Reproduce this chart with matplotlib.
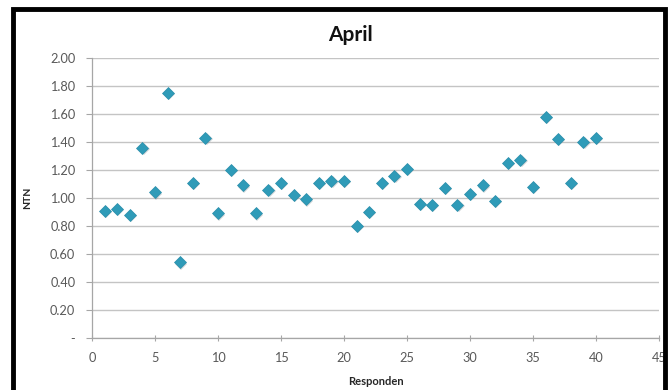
import matplotlib
matplotlib.use("Agg")
import matplotlib.pyplot as plt
from matplotlib.patches import Rectangle
from matplotlib.ticker import FixedLocator, FuncFormatter
import matplotlib.transforms as mtransforms

responden = list(range(1, 41))
ntn = [0.91, 0.92, 0.88, 1.36, 1.04, 1.75, 0.54, 1.11, 1.43, 0.89,
       1.20, 1.09, 0.89, 1.06, 1.11, 1.02, 0.99, 1.11, 1.12, 1.12,
       0.80, 0.90, 1.11, 1.16, 1.21, 0.96, 0.95, 1.07, 0.95, 1.03,
       1.09, 0.98, 1.25, 1.27, 1.08, 1.58, 1.42, 1.11, 1.40, 1.43]

x_ticks = [0, 5, 10, 15, 20, 25, 30, 35, 40, 45]
y_ticks = [0.0, 0.2, 0.4, 0.6, 0.8, 1.0, 1.2, 1.4, 1.6, 1.8, 2.0]

plt.rcParams['font.family'] = ['Lato', 'DejaVu Sans']

W, H = 672, 390
fig = plt.figure(figsize=(W / 100, H / 100), dpi=100)
fig.patch.set_facecolor('white')

ax = fig.add_axes([92 / W, 1 - 338 / H, (659 - 92) / W, (338 - 58) / H])
ax.set_xlim(0, 45)
ax.set_ylim(0, 2.0)

grid_c = '#c4c4c4'
ax.yaxis.set_major_locator(FixedLocator(y_ticks))
ax.xaxis.set_major_locator(FixedLocator(x_ticks))
ax.yaxis.set_major_formatter(FuncFormatter(lambda v, p: '-' if abs(v) < 1e-9 else f'{v:.2f}'))
ax.grid(axis='y', color=grid_c, linewidth=1.0)
ax.set_axisbelow(True)
for s in ['top', 'right']:
    ax.spines[s].set_visible(False)
for s in ['left', 'bottom']:
    ax.spines[s].set_color('#a6a6a6')
    ax.spines[s].set_linewidth(0.9)
ax.tick_params(axis='y', direction='out', length=4, color='#a6a6a6',
               labelsize=9.2, labelcolor='#595959', pad=8)
ax.tick_params(axis='x', direction='inout', length=4, color='#a6a6a6',
               labelsize=9.2, labelcolor='#595959', pad=8)

# soft drop shadow under the markers
shadow = mtransforms.offset_copy(ax.transData, fig=fig, x=1.2, y=-1.2, units='dots')
ax.plot(responden, ntn, linestyle='none', marker='D', markersize=6.5,
        color='#7a8a90', alpha=0.35, markeredgewidth=0, transform=shadow, zorder=2)
ax.plot(responden, ntn, linestyle='none', marker='D', markersize=6.5,
        color='#2f9bb8', markeredgecolor='#2a8eaa', markeredgewidth=0.5, zorder=3)

ax.set_xlabel('Responden', fontsize=8, fontweight='bold', color='#262626', labelpad=9)
ax.set_ylabel('NTN', fontsize=7.5, fontweight='bold', color='#262626', labelpad=13)

fig.text(350 / W, 1 - 35 / H, 'April', ha='center', va='center',
         fontsize=15, fontweight='bold', color='#111111')

# outer frame
fig.patches.append(Rectangle((13 / W, -0.05), (665 - 13) / W, 1.05 - 9.5 / H,
                             transform=fig.transFigure, fill=False,
                             edgecolor='black', linewidth=3.5, zorder=10))

fig.savefig('out.png', dpi=100)
